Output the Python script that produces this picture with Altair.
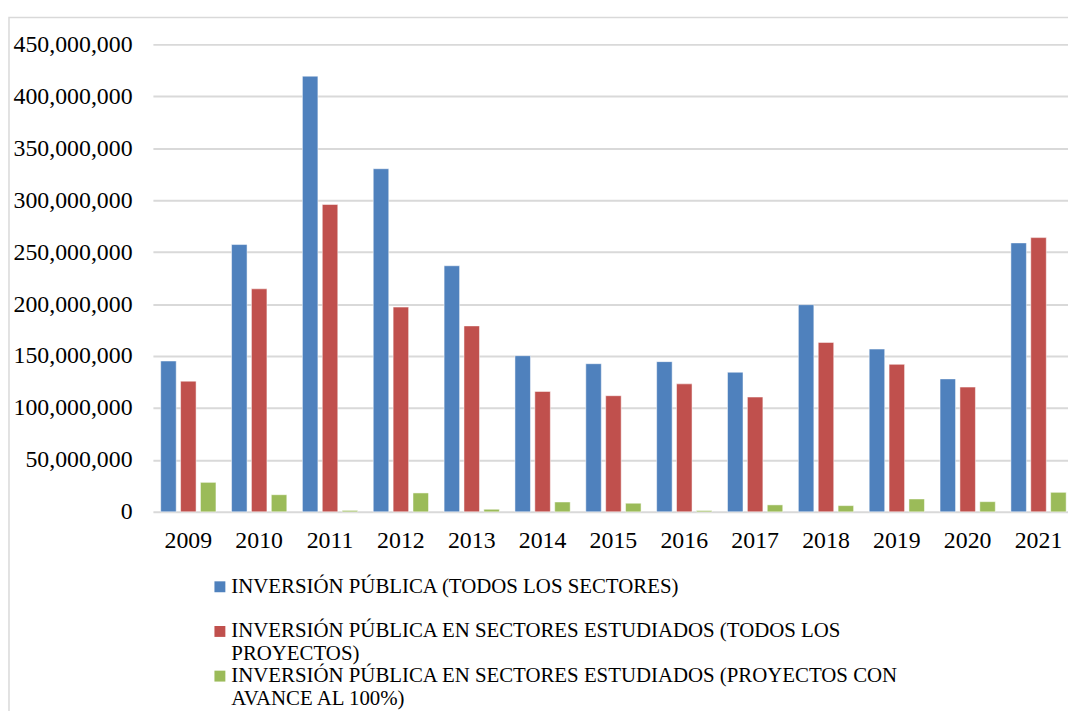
import json
import altair as alt
import pandas as pd

years = ["2009", "2010", "2011", "2012", "2013", "2014", "2015",
         "2016", "2017", "2018", "2019", "2020", "2021"]

total_sectores = [145_200_000, 257_300_000, 419_400_000, 330_300_000, 236_900_000,
                  150_300_000, 142_600_000, 144_600_000, 134_400_000, 199_400_000,
                  156_700_000, 128_000_000, 258_900_000]
sectores_estudiados = [125_800_000, 214_700_000, 295_900_000, 197_100_000, 179_000_000,
                       115_900_000, 111_800_000, 123_200_000, 110_500_000, 163_100_000,
                       142_000_000, 120_100_000, 264_000_000]
avance_100 = [28_400_000, 16_500_000, 1_400_000, 18_200_000, 2_500_000,
              9_500_000, 8_300_000, 1_300_000, 6_700_000, 6_000_000,
              12_400_000, 9_800_000, 18_800_000]

series = [
    "INVERSIÓN PÚBLICA (TODOS LOS SECTORES)",
    "INVERSIÓN PÚBLICA EN SECTORES ESTUDIADOS (TODOS LOS PROYECTOS)",
    "INVERSIÓN PÚBLICA EN SECTORES ESTUDIADOS (PROYECTOS CON AVANCE AL 100%)",
]
legend_lines = [
    ["INVERSIÓN PÚBLICA (TODOS LOS SECTORES)", " "],
    ["INVERSIÓN PÚBLICA EN SECTORES ESTUDIADOS (TODOS LOS", "PROYECTOS)"],
    ["INVERSIÓN PÚBLICA EN SECTORES ESTUDIADOS (PROYECTOS CON", "AVANCE AL 100%)"],
]
colors = ["#4F81BD", "#C0504D", "#9BBB59"]
y_ticks = [0, 50_000_000, 100_000_000, 150_000_000, 200_000_000,
           250_000_000, 300_000_000, 350_000_000, 400_000_000, 450_000_000]

rows = []
for vals, name in zip([total_sectores, sectores_estudiados, avance_100], series):
    for yr, v in zip(years, vals):
        rows.append({"year": yr, "serie": name, "value": v})
df = pd.DataFrame(rows)

parts = [f"datum.label == {json.dumps(n, ensure_ascii=False)} ? {json.dumps(l, ensure_ascii=False)}"
         for n, l in zip(series, legend_lines)]
label_expr = " : ".join(parts) + " : datum.label"

FONT = "Liberation Serif"
W, H = 922, 471

bars = alt.Chart(df).mark_bar(stroke="white", strokeOpacity=0.5, strokeWidth=1).encode(
    x=alt.X("year:N", sort=years,
            scale=alt.Scale(range=[0, 928], paddingInner=0.22, paddingOuter=0.11),
            axis=alt.Axis(title=None, labelAngle=0, domain=False, ticks=False,
                          labelPadding=17, labelFont=FONT, labelFontSize=24,
                          labelColor="black", grid=False)),
    xOffset=alt.XOffset("serie:N", sort=series,
                        scale=alt.Scale(paddingInner=0.22, paddingOuter=0)),
    y=alt.Y("value:Q",
            scale=alt.Scale(domain=[0, 450_000_000], nice=False),
            axis=alt.Axis(title=None, values=y_ticks, format=",d", domain=False,
                          ticks=False, labelPadding=21, labelFont=FONT,
                          labelFontSize=24, labelColor="black",
                          gridColor="#d9d9d9", gridWidth=2)),
    color=alt.Color("serie:N", sort=series,
                    scale=alt.Scale(domain=series, range=colors),
                    legend=alt.Legend(orient="none", legendX=57, legendY=536,
                                      direction="vertical", title=None,
                                      symbolType="square", symbolSize=121,
                                      symbolStrokeWidth=0, labelFont=FONT,
                                      labelFontSize=21, labelColor="black",
                                      labelLimit=1000, labelOffset=1,
                                      rowPadding=0, labelExpr=label_expr)),
)

frame = alt.Chart(pd.DataFrame({"a": [0]})).mark_rect(
    fillOpacity=0, stroke="#d9d9d9", strokeWidth=1.5
).encode(x=alt.value(-145), x2=alt.value(W + 20), y=alt.value(-27), y2=alt.value(H + 300))

chart = alt.layer(frame, bars).properties(
    width=W, height=H,
    autosize=alt.AutoSizeParams(type="none"),
    padding={"left": 146, "top": 34, "right": 0, "bottom": 198},
).configure_view(strokeWidth=0)

chart.save("out.html", embed_options={"renderer": "svg", "actions": False})
